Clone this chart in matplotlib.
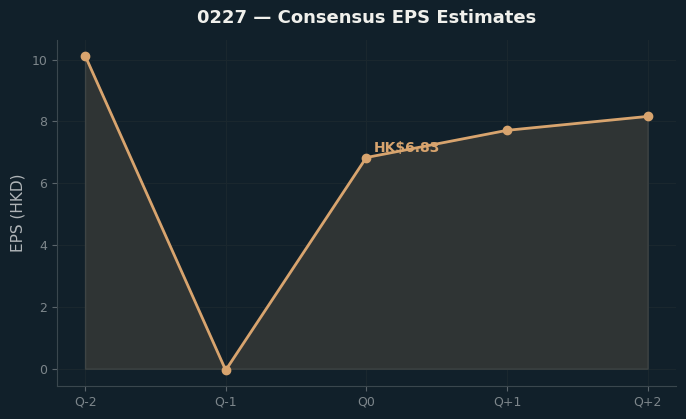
import matplotlib.pyplot as plt

# Consensus EPS estimates (HKD)
PERIODS = ["Q-2", "Q-1", "Q0", "Q+1", "Q+2"]
EPS = [10.13, -0.05, 6.83, 7.71, 8.16]
LABEL_INDEX = 2

BG = "#11202a"
LINE = "#d8a46e"
FILL = "#2f3434"


def main() -> None:
    fig, ax = plt.subplots(figsize=(6.86, 4.19), dpi=100)
    fig.patch.set_facecolor(BG)
    ax.set_facecolor(BG)

    x = list(range(len(PERIODS)))
    ax.fill_between(x, EPS, 0, color=FILL, edgecolor="#3e4444", linewidth=1.0, zorder=1)
    ax.plot(x, EPS, color=LINE, linewidth=2.0, marker="o", markersize=6, zorder=3)

    ax.annotate(
        f"HK${EPS[LABEL_INDEX]:.2f}",
        xy=(x[LABEL_INDEX], EPS[LABEL_INDEX]),
        xytext=(5, 2),
        textcoords="offset points",
        ha="left",
        va="bottom",
        fontsize=10,
        fontweight="bold",
        color=LINE,
        zorder=4,
    )

    ax.set_xticks(x)
    ax.set_xticklabels(PERIODS)
    ax.set_title("0227 — Consensus EPS Estimates", color="#f0f0ec",
                 fontsize=13, fontweight="bold", pad=12)
    ax.set_ylabel("EPS (HKD)", color="#b0b5b8", fontsize=11)

    ax.grid(color="#1a272e", linewidth=0.8)
    ax.set_axisbelow(True)
    for side in ("top", "right"):
        ax.spines[side].set_visible(False)
    for side in ("left", "bottom"):
        ax.spines[side].set_color("#3a474e")
    ax.tick_params(colors="#7d868b", labelsize=9)
    ax.tick_params(axis="both", color="#5a656b")

    fig.subplots_adjust(left=0.083, right=0.985, top=0.905, bottom=0.079)
    fig.savefig("out.png", dpi=100, facecolor=BG)
    plt.close(fig)


if __name__ == "__main__":
    main()
